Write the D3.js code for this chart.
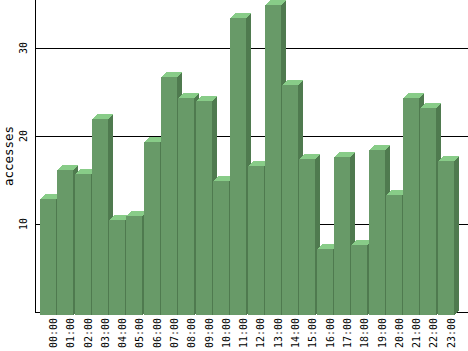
<!DOCTYPE html>
<html>
<head>
<meta charset="utf-8">
<script src="https://cdn.jsdelivr.net/npm/d3@7"></script>
<style>
  html, body { margin: 0; padding: 0; background: #fff; }
  svg { display: block; }
  text { font-family: "DejaVu Sans Mono", monospace; fill: #000; }
</style>
</head>
<body>
<svg id="chart" width="468" height="351"></svg>
<script>
/* ---------- data ------------------------------------------------ */
const hours    = ["00:00","01:00","02:00","03:00","04:00","05:00","06:00","07:00",
                  "08:00","09:00","10:00","11:00","12:00","13:00","14:00","15:00",
                  "16:00","17:00","18:00","19:00","20:00","21:00","22:00","23:00"];
const accesses = [13.2, 16.5, 16.0, 22.3, 10.8, 11.2, 19.6, 27.0,
                  24.7, 24.3, 15.2, 33.7, 16.9, 35.2, 26.1, 17.7,
                  7.5, 18.0, 8.0, 18.8, 13.6, 24.6, 23.5, 17.5];
const yTicks   = [10, 20, 30];
const yMax     = 35.45;
const yLabel   = "accesses";

/* ---------- layout ---------------------------------------------- */
const W = 468, H = 351;
const plot = {left: 40, right: 455, top: 0, bottom: 312, axisX: 35.5};
const depth  = 5;      // 3d offset
const drop   = 3;      // front face sits a bit below the back plane
const colors = {front: "#689a68", top: "#88cc88", side: "#4f7a4f"};

const svg = d3.select("#chart");

const x = d3.scaleBand().domain(hours).range([plot.left, plot.right]).padding(0);
const y = d3.scaleLinear().domain([0, yMax]).range([plot.bottom, plot.top]);
const barW = x.bandwidth() * 0.9;

/* ---------- gridlines ------------------------------------------- */
svg.append("g")
  .selectAll("line")
  .data([0, ...yTicks])
  .join("line")
    .attr("x1", plot.axisX - 0.5)
    .attr("x2", W)
    .attr("y1", d => Math.round(y(d)) + 0.5)
    .attr("y2", d => Math.round(y(d)) + 0.5)
    .attr("stroke", "#000")
    .attr("stroke-width", 1)
    .attr("shape-rendering", "crispEdges");

/* ---------- bars ------------------------------------------------ */
const bars = svg.append("g").attr("shape-rendering", "crispEdges");
hours.forEach((h, i) => {
  const x0 = Math.round(x(h));
  const x1 = x0 + Math.round(barW);
  const yt = Math.round(y(accesses[i])) + drop;
  const yb = Math.round(y(0)) + drop;
  const g = bars.append("g");
  g.append("polygon")
    .attr("points", [[x1, yt], [x1 + depth, yt - depth], [x1 + depth, yb - depth], [x1, yb]].join(" "))
    .attr("fill", colors.side);
  g.append("polygon")
    .attr("points", [[x0, yt], [x0 + depth, yt - depth], [x1 + depth, yt - depth], [x1, yt]].join(" "))
    .attr("fill", colors.top);
  g.append("rect")
    .attr("x", x0).attr("y", yt)
    .attr("width", x1 - x0).attr("height", yb - yt)
    .attr("fill", colors.front);
});

/* ---------- y axis ---------------------------------------------- */
svg.append("line")
  .attr("x1", plot.axisX).attr("x2", plot.axisX)
  .attr("y1", 0).attr("y2", plot.bottom + 0.5)
  .attr("stroke", "#000")
  .attr("shape-rendering", "crispEdges");

svg.append("g")
  .selectAll("text")
  .data(yTicks)
  .join("text")
    .attr("transform", d => `translate(27,${y(d)}) rotate(-90)`)
    .attr("text-anchor", "middle")
    .attr("font-size", 10)
    .text(d => d);

svg.append("text")
  .attr("transform", `translate(13,${(plot.top + plot.bottom) / 2}) rotate(-90)`)
  .attr("text-anchor", "middle")
  .attr("font-size", 12.5)
  .text(yLabel);

/* ---------- x labels -------------------------------------------- */
svg.append("g")
  .selectAll("text")
  .data(hours)
  .join("text")
    .attr("transform", d => `translate(${x(d) + x.bandwidth() - 0.3},318) rotate(-90)`)
    .attr("text-anchor", "end")
    .attr("font-size", 10)
    .text(d => d);
</script>
</body>
</html>
